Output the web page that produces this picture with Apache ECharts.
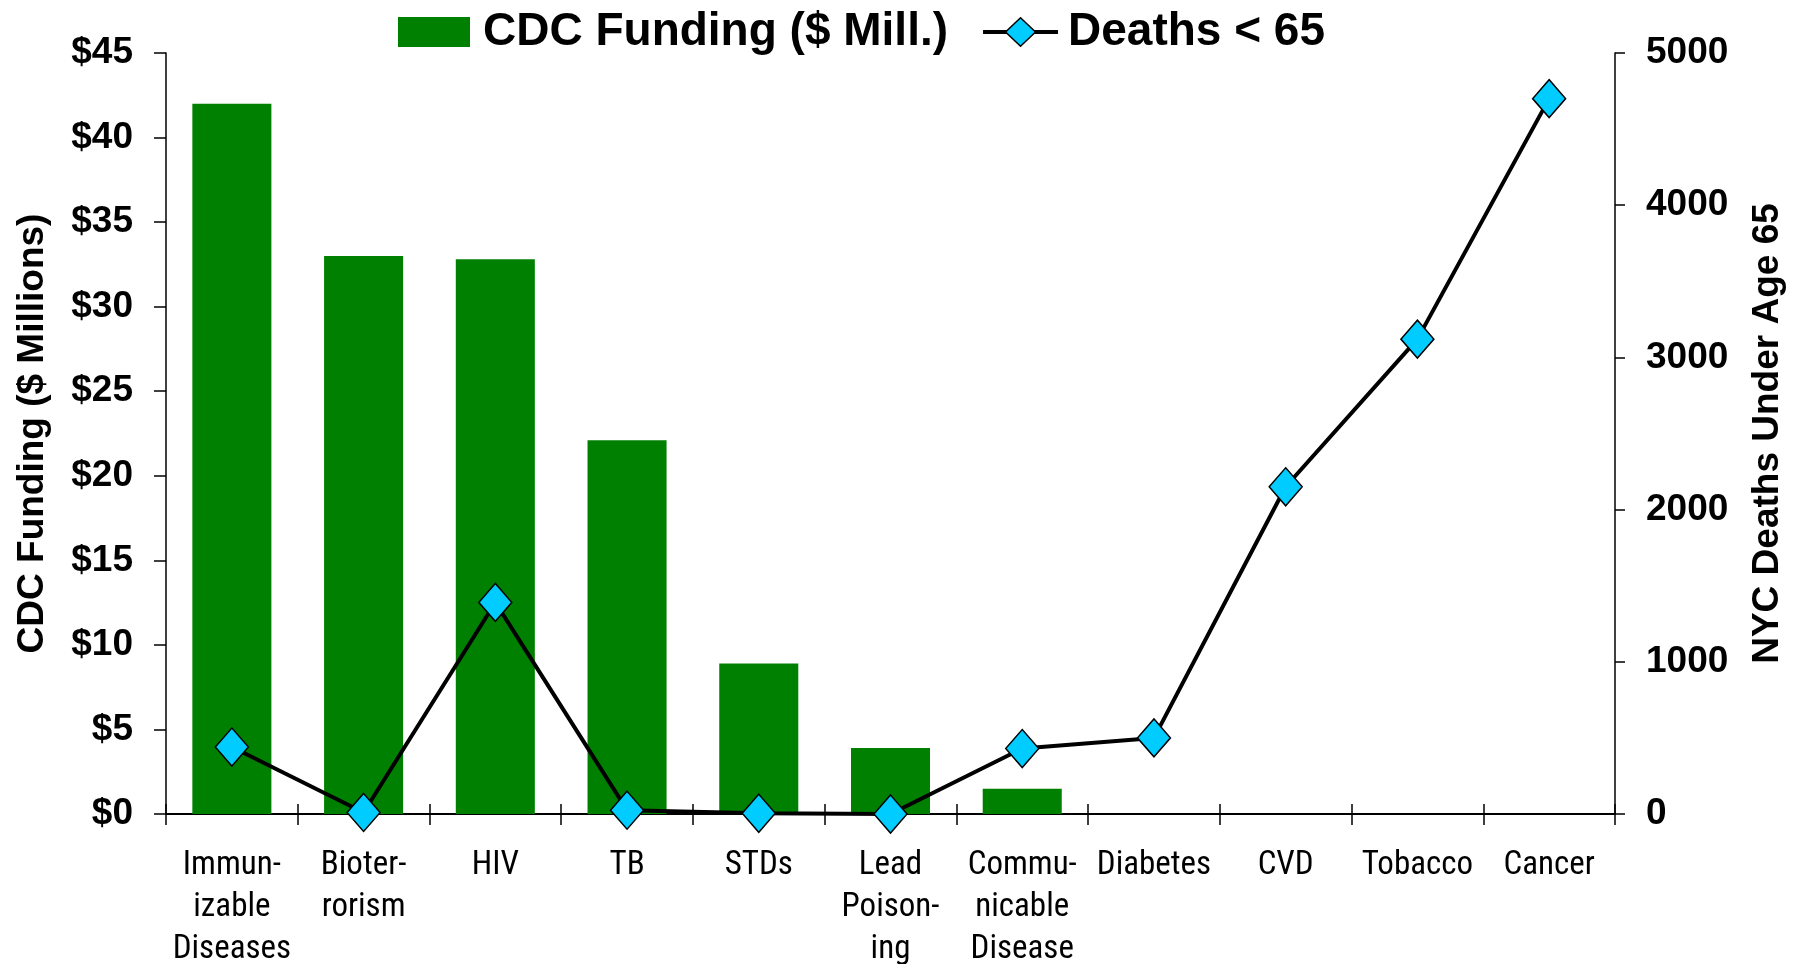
<!DOCTYPE html>
<html>
<head>
<meta charset="utf-8">
<script src="https://cdn.jsdelivr.net/npm/echarts@6/dist/echarts.min.js"></script>
<style>
html,body{margin:0;padding:0;background:#fff;}
#chart{width:1793px;height:964px;}
</style>
</head>
<body>
<div id="chart"></div>
<script>
const categories = ["Immun-\nizable\nDiseases", "Bioter-\nrorism", "HIV", "TB", "STDs", "Lead\nPoison-\ning", "Commu-\nnicable\nDisease", "Diabetes", "CVD", "Tobacco", "Cancer"];
const funding = [42, 33, 32.8, 22.1, 8.9, 3.9, 1.5, null, null, null, null];
const deaths = [440, 10, 1390, 25, 5, 0, 430, 500, 2150, 3120, 4700];
const fundingTicks = {min: 0, max: 45, interval: 5};
const deathTicks = {min: 0, max: 5000, interval: 1000};

const sans = "'Liberation Sans', Arial, sans-serif";
const narrow = "'Liberation Sans Narrow', 'Arial Narrow', 'Roboto Condensed', 'DejaVu Sans Condensed', sans-serif";

const GREEN = '#008000';
const CYAN = '#00CCFF';

// legend icons (not data marks): a green block and a line-with-diamond, with a small right margin
const rectIcon = 'image://data:image/svg+xml;charset=utf-8,' + encodeURIComponent(
  "<svg xmlns='http://www.w3.org/2000/svg' width='80' height='30' viewBox='0 0 80 30' preserveAspectRatio='none'>" +
  "<rect x='0' y='0' width='72' height='30' fill='" + GREEN + "'/></svg>");
const lineIcon = 'image://data:image/svg+xml;charset=utf-8,' + encodeURIComponent(
  "<svg xmlns='http://www.w3.org/2000/svg' width='80' height='30' viewBox='0 0 80 30' preserveAspectRatio='none'>" +
  "<line x1='0' y1='15' x2='75' y2='15' stroke='#000' stroke-width='4'/>" +
  "<polygon points='37.5,0.8 52.5,15 37.5,29.2 22.5,15' fill='" + CYAN + "' stroke='#000' stroke-width='1.5'/></svg>");

const chart = echarts.init(document.getElementById('chart'), null, {renderer: 'canvas'});
chart.setOption({
  backgroundColor: '#ffffff',
  animation: false,
  grid: {left: 166, right: 178, top: 53, bottom: 150, containLabel: false, outerBoundsMode: 'none'},
  legend: {
    top: 4,
    left: 393,
    itemWidth: 80,
    itemHeight: 30,
    itemGap: 35,
    textStyle: {fontFamily: sans, fontWeight: 'bold', fontSize: 46, color: '#000'},
    data: [
      {name: 'CDC Funding ($ Mill.)', icon: rectIcon},
      {name: 'Deaths < 65', icon: lineIcon}
    ]
  },
  xAxis: [{
    type: 'category',
    data: categories,
    position: 'bottom',
    axisLine: {show: true, onZero: false, lineStyle: {color: '#000', width: 2}},
    axisTick: {show: true, inside: false, length: 11, alignWithLabel: false, lineStyle: {color: '#000', width: 1.5}},
    axisLabel: {interval: 0, margin: 31, fontFamily: narrow, fontSize: 33, lineHeight: 42, color: '#000'},
    splitLine: {show: false}
  }, {
    type: 'category',
    data: categories,
    position: 'top',
    offset: -761,
    axisLine: {show: false},
    axisTick: {show: true, inside: false, length: 10, lineStyle: {color: '#000', width: 1.5}},
    axisLabel: {show: false},
    splitLine: {show: false}
  }],
  yAxis: [{
    type: 'value',
    min: fundingTicks.min, max: fundingTicks.max, interval: fundingTicks.interval,
    position: 'left',
    name: 'CDC Funding ($ Millions)',
    nameLocation: 'middle',
    nameGap: 115,
    nameRotate: 90,
    nameTextStyle: {fontFamily: sans, fontWeight: 'bold', fontSize: 37, color: '#000'},
    axisLine: {show: true, lineStyle: {color: '#000', width: 1.5}},
    axisTick: {show: true, length: 12, lineStyle: {color: '#000', width: 1.5}},
    axisLabel: {margin: 33, fontFamily: sans, fontWeight: 'bold', fontSize: 37, color: '#000', formatter: v => '$' + v},
    splitLine: {show: false}
  }, {
    type: 'value',
    min: deathTicks.min, max: deathTicks.max, interval: deathTicks.interval,
    position: 'right',
    name: 'NYC Deaths Under Age 65',
    nameLocation: 'middle',
    nameGap: 134,
    nameRotate: 90,
    nameTextStyle: {fontFamily: sans, fontWeight: 'bold', fontSize: 37, color: '#000'},
    axisLine: {show: true, lineStyle: {color: '#000', width: 1.5}},
    axisTick: {show: true, length: 10, lineStyle: {color: '#000', width: 1.5}},
    axisLabel: {margin: 31, fontFamily: sans, fontWeight: 'bold', fontSize: 37, color: '#000', formatter: v => String(v)},
    splitLine: {show: false}
  }],
  series: [{
    name: 'CDC Funding ($ Mill.)',
    type: 'bar',
    xAxisIndex: 0,
    yAxisIndex: 0,
    data: funding,
    barCategoryGap: '40%',
    itemStyle: {color: GREEN},
    z: 2
  }, {
    name: 'Deaths < 65',
    type: 'line',
    xAxisIndex: 0,
    yAxisIndex: 1,
    data: deaths,
    symbol: 'diamond',
    symbolSize: [33, 38],
    showAllSymbol: true,
    lineStyle: {color: '#000', width: 4},
    itemStyle: {color: CYAN, borderColor: '#000', borderWidth: 1.5},
    z: 5
  }]
});
</script>
</body>
</html>
